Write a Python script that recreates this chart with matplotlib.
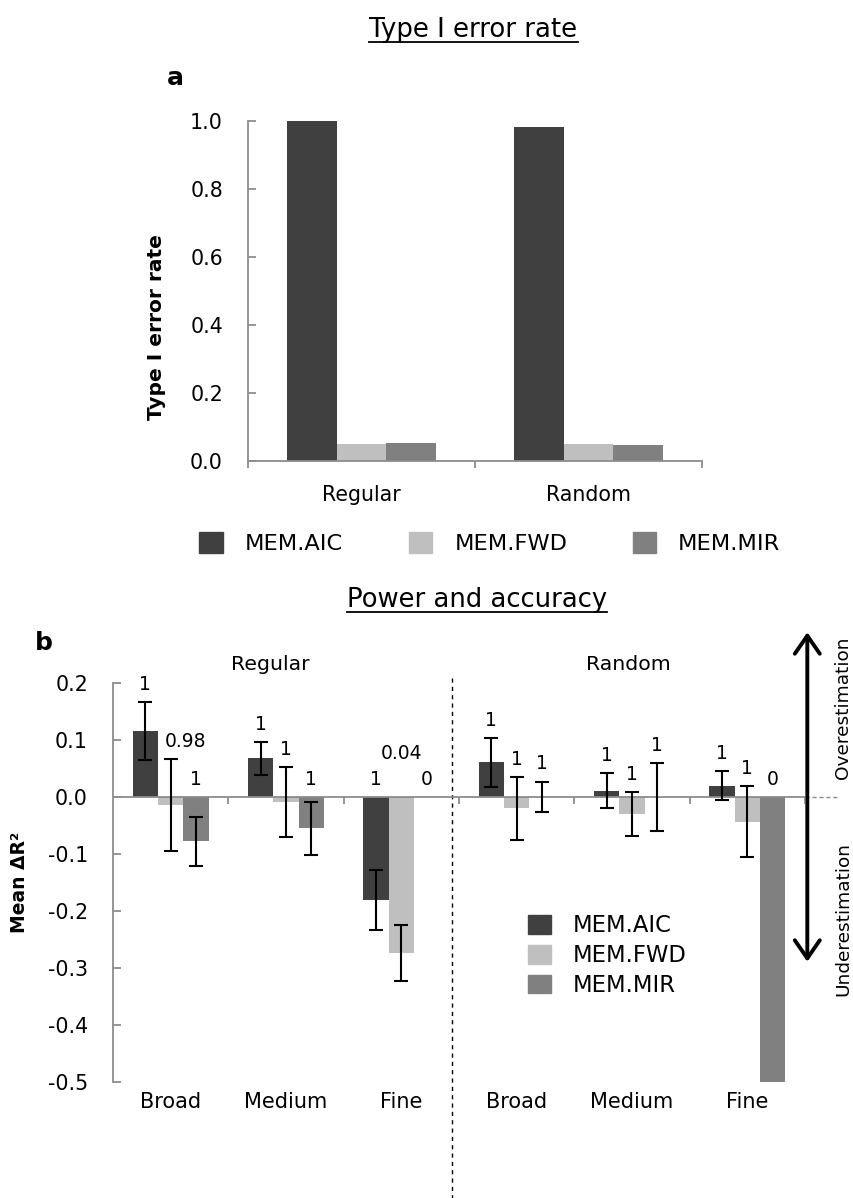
import numpy as np
import matplotlib.pyplot as plt
from matplotlib.patches import Patch
from matplotlib.lines import Line2D
from matplotlib.ticker import FormatStrFormatter

plt.rcParams['font.family'] = ['DejaVu Sans']
plt.rcParams['axes.unicode_minus'] = False

# ---- data: panel a (Type I error rate) ----
designs = ['Regular', 'Random']
t1_aic = [1.000, 0.982]
t1_fwd = [0.050, 0.050]
t1_mir = [0.053, 0.047]

# ---- data: panel b (mean delta R2, with error bars and power labels) ----
scales = ['Broad', 'Medium', 'Fine', 'Broad', 'Medium', 'Fine']
aic_mean = [0.116, 0.068, -0.181, 0.061, 0.011, 0.020]
aic_err = [0.051, 0.029, 0.053, 0.043, 0.031, 0.026]
fwd_mean = [-0.014, -0.009, -0.274, -0.020, -0.030, -0.043]
fwd_err = [0.081, 0.061, 0.049, 0.055, 0.039, 0.062]
mir_mean = [-0.078, -0.055, 0.0, 0.0, 0.0, -0.500]
mir_err = [0.043, 0.046, 0.0, 0.027, 0.060, 0.0]
aic_pow = ['1', '1', '1', '1', '1', '1']
fwd_pow = ['0.98', '1', '0.04', '1', '1', '1']
mir_pow = ['1', '1', '0', '1', '1', '0']

methods = ['MEM.AIC', 'MEM.FWD', 'MEM.MIR']
colors = ['#404040', '#bfbfbf', '#808080']
gray = '#8c8c8c'

fig = plt.figure(figsize=(8.54, 11.98), dpi=100)

# ================= panel a =================
ax1 = fig.add_axes([248 / 854, 1 - 461 / 1198, 454 / 854, 340 / 1198])
w = 0.22
x = np.arange(len(designs)) + 0.5
for k, vals in enumerate([t1_aic, t1_fwd, t1_mir]):
    ax1.bar(x + (k - 1) * w, vals, w, color=colors[k], zorder=2)
ax1.set_xlim(0, 2)
ax1.set_ylim(0, 1.0)
for s in ['top', 'right']:
    ax1.spines[s].set_visible(False)
for s in ['left', 'bottom']:
    ax1.spines[s].set_color(gray)
    ax1.spines[s].set_linewidth(1.3)
ax1.set_xticks([0, 1, 2])
ax1.set_xticklabels([])
ax1.tick_params(axis='x', which='major', direction='out', length=5, width=1.3, color=gray)
ax1.set_xticks(x, minor=True)
ax1.set_xticklabels(designs, minor=True)
ax1.tick_params(axis='x', which='minor', length=0, pad=17, labelsize=14.8)
ax1.set_yticks([0, 0.2, 0.4, 0.6, 0.8, 1.0])
ax1.yaxis.set_major_formatter(FormatStrFormatter('%.1f'))
ax1.tick_params(axis='y', direction='in', length=6, width=1.3, color=gray, pad=18, labelsize=14.8)
ax1.set_ylabel('Type I error rate', fontweight='bold', fontsize=14.5)
ax1.yaxis.set_label_coords(-0.18, 0.395)

handles = [Patch(color=c) for c in colors]
fig.legend(handles, methods, loc='center', bbox_to_anchor=(490 / 854, 1 - 543 / 1198), ncol=3,
           frameon=False, fontsize=16.2, handlelength=1.06, handleheight=1.06,
           handletextpad=0.97, columnspacing=2.9, borderpad=0)

# ================= panel b =================
ax2 = fig.add_axes([113 / 854, 1 - 1082 / 1198, 692 / 854, 399 / 1198])
xb = np.arange(len(scales)) + 0.5
series = [(aic_mean, aic_err, aic_pow), (fwd_mean, fwd_err, fwd_pow), (mir_mean, mir_err, mir_pow)]
for k, (m, e, p) in enumerate(series):
    m = np.array(m)
    e = np.array(e)
    xs = xb + (k - 1) * w
    ax2.bar(xs, m, w, color=colors[k], zorder=2)
    has = e > 0
    ax2.errorbar(xs[has], m[has], yerr=e[has], fmt='none', ecolor='black',
                 elinewidth=1.5, capsize=5, capthick=1.5, zorder=4)
    for i in range(len(scales)):
        top = max(0.0, m[i] + e[i])
        dx, dy = 0.0, 0.031
        if p[i] == '0.98':
            dx = 0.13
        if p[i] == '0.04':
            dy = 0.077
        ax2.text(xs[i] + dx, top + dy, p[i], ha='center', va='center', fontsize=13.5)

ax2.set_xlim(0, 6)
ax2.set_ylim(-0.5, 0.2)
for s in ['top', 'right', 'bottom']:
    ax2.spines[s].set_visible(False)
ax2.spines['left'].set_color(gray)
ax2.spines['left'].set_linewidth(1.3)
ax2.axhline(0, color=gray, lw=1.3, zorder=3)
ax2.vlines(np.arange(1, 7), -0.012, 0, color=gray, lw=1.3, zorder=3)
ax2.plot([6.0, 6.29], [0, 0], color=gray, lw=1, ls=(0, (3, 2)), clip_on=False)
ax2.set_xticks(xb)
ax2.set_xticklabels(scales)
ax2.tick_params(axis='x', length=0, pad=7, labelsize=15)
ax2.set_yticks([-0.5, -0.4, -0.3, -0.2, -0.1, 0.0, 0.1, 0.2])
ax2.yaxis.set_major_formatter(FormatStrFormatter('%.1f'))
ax2.tick_params(axis='y', direction='in', length=6, width=1.3, color=gray, pad=18, labelsize=14.8)
ax2.set_ylabel('Mean ΔR²', fontweight='bold', fontsize=13.5)
ax2.yaxis.set_label_coords(-0.121, 0.499)

ax2.text(1.36, 0.232, 'Regular', ha='center', va='center', fontsize=14.7)
ax2.text(4.47, 0.232, 'Random', ha='center', va='center', fontsize=14.7)
ax2.plot([2.94, 2.94], [0.209, -0.705], color='black', lw=1, ls=(0, (3, 3)), clip_on=False)

ax2.annotate('', xy=(6.02, 0.289), xytext=(6.02, -0.289),
             arrowprops=dict(arrowstyle='<->,head_length=0.65,head_width=0.45', lw=2.8,
                             color='black', mutation_scale=20, shrinkA=0, shrinkB=0),
             annotation_clip=False)
ax2.text(6.33, 0.156, 'Overestimation', rotation=90, ha='center', va='center', fontsize=13.3)
ax2.text(6.33, -0.214, 'Underestimation', rotation=90, ha='center', va='center', fontsize=13.3)

ax2.legend(handles, methods, loc='upper left', bbox_to_anchor=(517 / 854, 1 - 903 / 1198),
           bbox_transform=fig.transFigure, frameon=False, fontsize=16.3, borderpad=0,
           handlelength=1.0, handleheight=0.9, handletextpad=0.95, labelspacing=0.3)

# ---- titles and panel letters ----
t1 = fig.text(0.5544, 1 - 30 / 1198, 'Type I error rate', ha='center', va='center', fontsize=18.7)
t2 = fig.text(0.5585, 1 - 600 / 1198, 'Power and accuracy', ha='center', va='center', fontsize=18.6)
fig.text(0.205, 0.935, 'a', ha='center', va='center', fontsize=18, fontweight='bold')
fig.text(0.0515, 0.4633, 'b', ha='center', va='center', fontsize=18, fontweight='bold')

# underline the titles
fig.canvas.draw()
for t in [t1, t2]:
    bb = t.get_window_extent().transformed(fig.transFigure.inverted())
    yl = bb.y0 + 0.001
    fig.add_artist(Line2D([bb.x0, bb.x1], [yl, yl], color='black', lw=1.3))

fig.savefig('out.png', dpi=100)
